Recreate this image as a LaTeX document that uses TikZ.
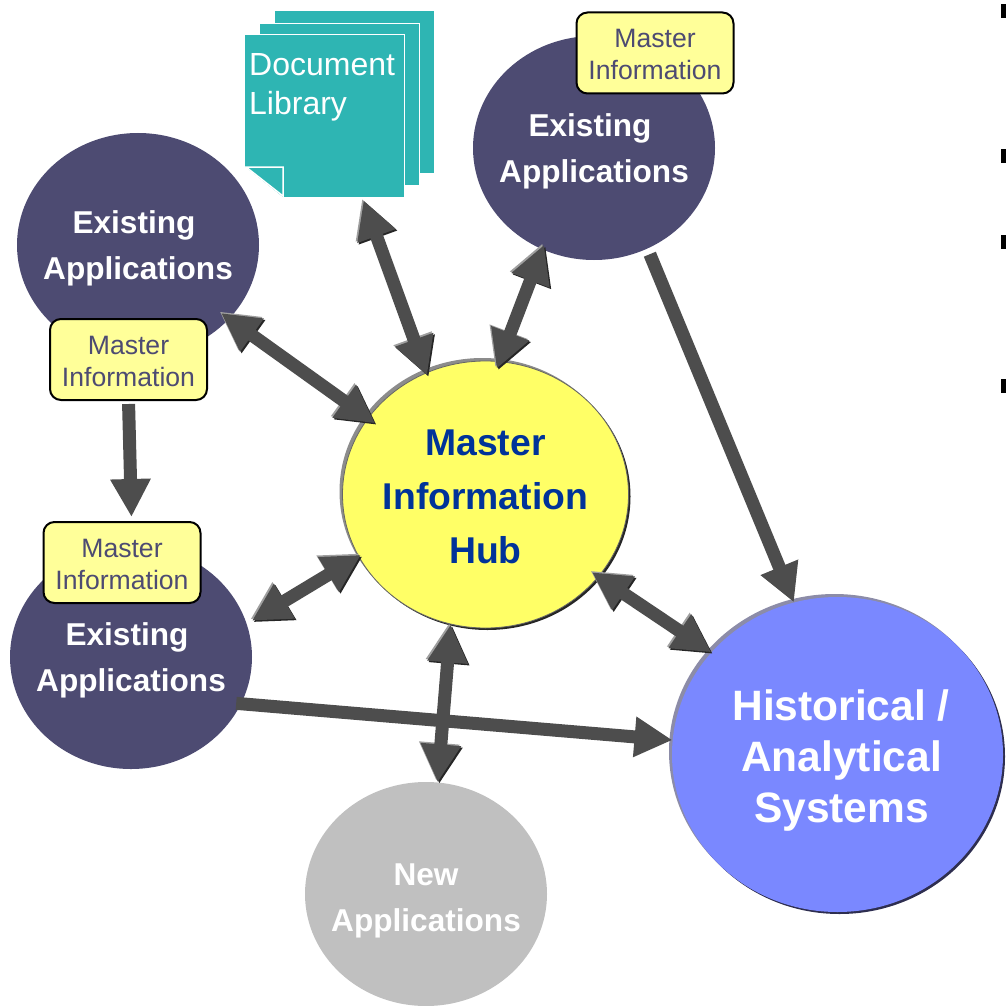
\documentclass[tikz,border=0pt]{standalone}
\usepackage{fontspec}
\setmainfont{Liberation Sans}
\usetikzlibrary{shapes.geometric,arrows.meta,shadows}
\definecolor{appblue}{HTML}{4D4B72}
\definecolor{hubyellow}{HTML}{FFFF66}
\definecolor{hubtext}{HTML}{003399}
\definecolor{histblue}{HTML}{7A88FF}
\definecolor{histedge}{HTML}{2E2E50}
\definecolor{histlight}{HTML}{8C8CA8}
\definecolor{newgray}{HTML}{C0C0C0}
\definecolor{docteal}{HTML}{2EB5B3}
\definecolor{boxyellow}{HTML}{FFFF99}
\definecolor{arrowgray}{HTML}{4D4D4D}
\newcommand{\padtop}[1]{\rule{0pt}{#1em}}
\begin{document}
\begin{tikzpicture}[x=1pt,y=-1pt,
				circle_app/.style ={ellipse, fill=appblue, text=white, inner sep=-30pt,
					minimum width=242pt, minimum height=224pt, align=center,
					font=\fontsize{31.6}{46}\selectfont\bfseries},
				circle_new/.style ={circle_app, fill=newgray},
				circle_hub/.style ={ellipse, fill=hubyellow, text=hubtext, inner sep=-30pt,
					draw=black!60, line width=.8pt,
					general shadow={fill=gray!90, shadow xshift=-3pt, shadow yshift=3pt},
					general shadow={fill=black!85, shadow xshift=2pt, shadow yshift=-2pt},
					minimum width=286pt, minimum height=267pt, align=center,
					font=\fontsize{37.3}{54}\selectfont\bfseries},
				circle_hist/.style ={ellipse, fill=histblue, text=white, inner sep=-30pt,
					general shadow={fill=histlight, shadow xshift=-3pt, shadow yshift=3pt},
					general shadow={fill=histedge, shadow xshift=2pt, shadow yshift=-2pt},
					minimum width=331pt, minimum height=315pt, align=center,
					font=\fontsize{42.500}{51}\selectfont\bfseries},
				box_master/.style ={rectangle, rounded corners=11pt, fill=boxyellow, draw=black,
					line width=2pt, minimum width=157pt, minimum height=81pt, inner sep=0pt,
					text=appblue, align=center, font=\fontsize{26.6}{32}\selectfont},
				doc_page/.style ={rectangle, fill=docteal, draw=white, line width=1pt,
					minimum width=160pt, minimum height=162pt, inner sep=0pt},
				doc_text/.style ={anchor=north west, inner sep=0pt, text=white, align=left,
					font=\fontsize{32}{39}\selectfont},
				bullet_mark/.style ={rectangle, fill=black, minimum width=5pt, minimum height=14pt,
					inner sep=0pt, anchor=north west},
				line/.style ={draw=arrowgray, line width=13pt, -{Triangle[length=38pt,width=38pt]}},
				line_both/.style ={line, {Triangle[length=38pt,width=38pt]}-{Triangle[length=38pt,width=38pt]},
					preaction={draw=gray!75, transform canvas={shift={(-1.5pt,1.5pt)}}},
					preaction={draw=black!85, transform canvas={shift={(1.5pt,-1.5pt)}}}}]
	% document library
	\node [doc_page] (pageback) at (354.500,92) {};
	\node [doc_page] (pagemiddle) at (339.500,104.500) {};
	\node [doc_page] (pagefront) at (324.500,116) {};
	\fill [white] (244,166) -- (244,198) -- (284,198) -- cycle;
	\draw [fill=docteal, draw=white, line width=1.5pt] (246,167) -- (283,167) -- (283,196) -- cycle;
	\node [doc_text] (doclabel) at (249,53) {Document\\Library};
	% applications
	\node [circle_app] (existingtop) at (594,148) {\padtop{.94}Existing\hspace*{8pt}\\Applications};
	\node [circle_app] (existingleft) at (138,245) {\padtop{.96}Existing\hspace*{8pt}\\Applications};
	\node [circle_app] (existingbottom) at (131,657) {\padtop{.96}Existing\hspace*{8pt}\\Applications};
	\node [circle_new] (newapps) at (426,894) {\padtop{1.1}New\\Applications};
	\node [circle_hub] (hub) at (485.500,494.500) {\padtop{.83}Master\\Information\\Hub};
	\node [circle_hist] (historical) at (837.500,754.500) {\padtop{1.01}\hspace*{7pt}Historical /\\\hspace*{8pt}Analytical\\\hspace*{8pt}Systems};
	% master information boxes
	\node [box_master] (infotop) at (655,53) {\padtop{.8}Master\\Information};
	\node [box_master] (infoleft) at (128.500,359.500) {\padtop{.8}Master\\Information};
	\node [box_master] (infobottom) at (122,562.500) {\padtop{.8}Master\\Information};
	% bullets of the cut off text
	\node [bullet_mark] (bulletone) at (1000.500,4) {};
	\node [bullet_mark] (bullettwo) at (1000.500,148.500) {};
	\node [bullet_mark] (bulletthree) at (1000.500,235) {};
	\node [bullet_mark] (bulletfour) at (1000.500,379) {};
	% connecting nodes with paths
	\path [line_both, shorten <=3pt, shorten >=-3pt] (pagefront.-65.4) -- (hub.116.7);
	\path [line_both, shorten <=-5pt, shorten >=-8pt] (existingtop.243.7) -- (hub.84.9);
	\path [line_both, shorten <=-10pt, shorten >=-9pt] (existingleft.-39.8) -- (hub.147.4);
	\path [line_both, shorten <=-3pt, shorten >=6pt] (hub.206.1) -- (existingbottom.16);
	\path [line_both, shorten <=-8pt] (hub.-36.3) -- (historical.141.9);
	\path [line_both] (hub.255.8) -- (newapps.84.9);
	\path [line, shorten <=3pt, shorten >=4pt] (infoleft.south) -- (infobottom.77.8);
	\path [line, shorten <=-5pt] (existingbottom.-23.2) -- (historical.175.9);
	\path [line, shorten <=6pt] (existingtop.-62.4) -- (historical.106.4);
	\useasboundingbox (0,0) rectangle (1005,1006);
\end{tikzpicture}
\end{document}
